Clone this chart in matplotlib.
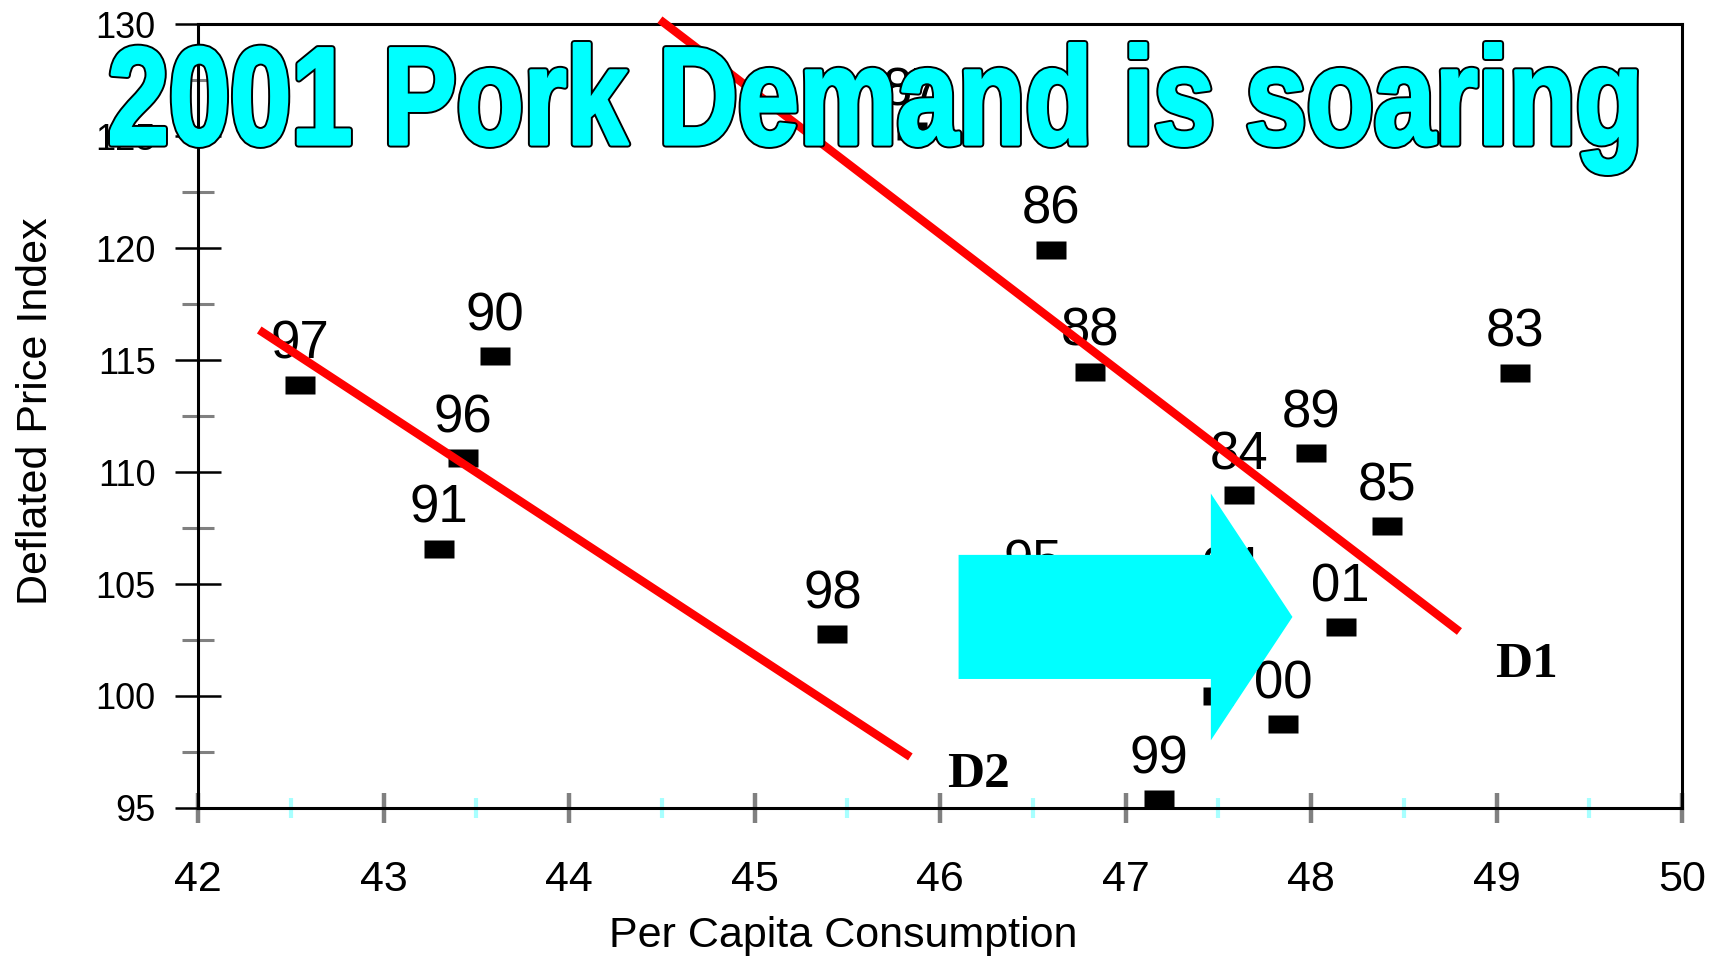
import matplotlib
matplotlib.use('Agg')
import matplotlib.pyplot as plt
from matplotlib.path import Path
from matplotlib.patches import PathPatch, FancyArrow
from matplotlib.textpath import TextPath
from matplotlib.font_manager import FontProperties
from matplotlib.transforms import Affine2D
from matplotlib.ticker import MultipleLocator

plt.rcParams['font.family'] = ['Liberation Sans', 'DejaVu Sans']

# year labels, per capita consumption (x) and deflated price index (y)
years = ['83', '84', '85', '86', '87', '88', '89', '90', '91',
         '93', '94', '95', '96', '97', '98', '99', '00', '01']
consumption = [49.10, 47.61, 48.41, 46.60, 45.85, 46.81, 48.00, 43.60, 43.30,
               47.50, 47.57, 46.50, 43.43, 42.55, 45.42, 47.18, 47.85, 48.16]
price = [114.44, 108.97, 107.57, 119.93, 125.21, 114.48, 110.85, 115.17, 106.58,
         100.00, 103.85, 104.15, 110.62, 113.90, 102.78, 95.40, 98.76, 103.06]

# hand drawn demand curves
d1_x = [44.49, 48.80]
d1_y = [130.19, 102.88]
d2_x = [42.33, 45.84]
d2_y = [116.34, 97.28]

title_text = '2001 Pork Demand is soaring'

fig = plt.figure(figsize=(17.16, 9.57), dpi=100)
ax = fig.add_axes([0.1154, 0.1557, 0.8648, 0.8192])

# little black bars as markers
bar = Path([(-1, -0.62), (1, -0.62), (1, 0.62), (-1, 0.62), (-1, -0.62)],
           [Path.MOVETO, Path.LINETO, Path.LINETO, Path.LINETO, Path.CLOSEPOLY])
ax.plot(consumption, price, ls='none', marker=bar, ms=20.9, mfc='black',
        mec='none', zorder=3, clip_on=False)
for yr, x, y in zip(years, consumption, price):
    ax.annotate(yr, (x, y), xytext=(0, 18.5), textcoords='offset points',
                ha='center', va='baseline', fontsize=38, zorder=3)

ax.plot(d1_x, d1_y, color='red', lw=6, solid_capstyle='butt', zorder=4, clip_on=False)
ax.plot(d2_x, d2_y, color='red', lw=6, solid_capstyle='butt', zorder=4, clip_on=False)
ax.text(48.99, 100.85, 'D1', family='Liberation Serif', weight='bold',
        fontsize=37, ha='left', va='baseline', zorder=4)
ax.text(46.04, 95.94, 'D2', family='Liberation Serif', weight='bold',
        fontsize=37, ha='left', va='baseline', zorder=4)

# big cyan arrow (shift of demand)
arrow = FancyArrow(46.10, 103.53, 1.80, 0, width=5.54, head_width=11.02,
                   head_length=0.44, length_includes_head=True,
                   color='#00ffff', lw=0, zorder=5)
ax.add_patch(arrow)

ax.set_xlim(42, 50)
ax.set_ylim(95, 130)
ax.xaxis.set_major_locator(MultipleLocator(1))
ax.xaxis.set_minor_locator(MultipleLocator(0.5))
ax.yaxis.set_major_locator(MultipleLocator(5))
ax.yaxis.set_minor_locator(MultipleLocator(2.5))
for sp in ax.spines.values():
    sp.set_linewidth(2.2)

ax.tick_params(axis='x', which='major', direction='inout', length=21, width=3.2,
               color='#808080', pad=27, labelsize=31)
ax.tick_params(axis='x', which='minor', direction='inout', length=14, width=3,
               color='#a8ffff')
ax.tick_params(axis='y', which='major', direction='inout', length=33, width=1.8,
               color='black', pad=14, labelsize=26)
ax.tick_params(axis='y', which='minor', direction='inout', length=23, width=2.2,
               color='#808080')

ax.set_xlabel('Per Capita Consumption', fontsize=31)
ax.set_ylabel('Deflated Price Index', fontsize=31)
ax.xaxis.set_label_coords(0.4346, -0.138)
ax.yaxis.set_label_coords(-0.0957, 0.5057)

# outlined, squeezed and thickened title drawn as a path
fp = FontProperties(family='Liberation Sans', weight='bold')
tp = TextPath((0, 0), title_text, size=100, prop=fp)
bb = tp.get_extents()
fx0, fx1 = 111.5 / 1716, 1635.5 / 1716
fy0, fy1 = 1 - 173.5 / 957, 1 - 43.5 / 957
tr = (Affine2D().translate(-bb.x0, -bb.y0)
      .scale((fx1 - fx0) / bb.width, (fy1 - fy0) / bb.height)
      .translate(fx0, fy0) + fig.transFigure)
fig.add_artist(PathPatch(tp, transform=tr, fc='#00ffff', ec='black', lw=5,
                         joinstyle='round', zorder=10))
fig.add_artist(PathPatch(tp, transform=tr, fc='#00ffff', ec='#00ffff', lw=2.2,
                         joinstyle='round', zorder=11))

fig.savefig('out.png', dpi=100)
